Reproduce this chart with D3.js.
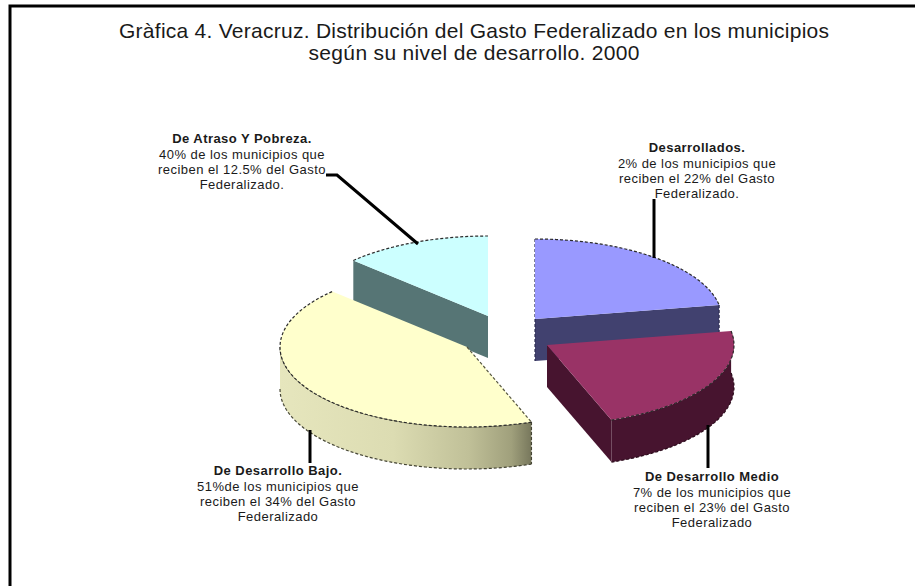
<!DOCTYPE html>
<html>
<head>
<meta charset="utf-8">
<script src="https://cdnjs.cloudflare.com/ajax/libs/d3/7.8.5/d3.min.js"></script>
<style>
html,body{margin:0;padding:0;background:#fff;}
svg{display:block;}
text{font-family:"Liberation Sans",Arial,sans-serif;fill:#1a1a1a;}
</style>
</head>
<body>
<svg id="c" width="915" height="586"></svg>
<script>
// Data
const titleLines = ["Gràfica 4. Veracruz. Distribución del Gasto Federalizado en los municipios",
                    "según su nivel de desarrollo. 2000"];
const categories = ["Desarrollados.", "De Desarrollo Medio", "De Desarrollo Bajo.", "De Atraso Y Pobreza."];
// slice shares as they are drawn in the picture (percent of the full circle)
const drawnShares = [22.2, 22.2, 42.8, 12.8];
const captions = [
  ["2% de los municipios que", "reciben el 22% del Gasto", "Federalizado."],
  ["7% de los municipios que", "reciben el 23% del Gasto", "Federalizado"],
  ["51%de los municipios que", "reciben el 34% del Gasto", "Federalizado"],
  ["40% de los municipios que", "reciben el 12.5% del Gasto", "Federalizado."]
];
const topColors  = ["#9999ff", "#993366", "#ffffcc", "#ccffff"];
const wallColors = ["#41416f", "#47142f", "#d9d9ae", "#567575"];

// Layout
const W = 915, H = 586;
const cx = 500, cy = 337, depth = 42;
const x = d3.scaleLinear().domain([-1, 1]).range([-187, 187]);
const y = d3.scaleLinear().domain([-1, 1]).range([-80, 80]);
const explode = [[35, -18], [47, 8], [-33, 10], [-12, -21]];
const labelAnchor = [[697, 152], [712, 481], [278, 475], [242, 143]];
const captionOffsets = [15.5, 31, 46];
const leaders = [
  [[654, 199], [654, 258]],
  [[708, 425], [708, 468]],
  [[310, 430], [310, 463]],
  [[326, 175], [337, 175], [418, 244]]
];

const svg = d3.select("#c");
svg.append("rect").attr("width", W).attr("height", H).attr("fill", "#fff");

// frame (open at the right and bottom of the picture)
svg.append("path")
  .attr("d", d3.line()([[10, H], [10, 6], [W, 6]]))
  .attr("fill", "none").attr("stroke", "#000").attr("stroke-width", 3);

const defs = svg.append("defs");
const grad = defs.append("linearGradient").attr("id", "yellowWall")
  .attr("gradientUnits", "userSpaceOnUse");
grad.selectAll("stop")
  .data([[0, "#e6e6bd"], [0.45, "#dcdcb2"], [0.75, "#c0c098"], [0.92, "#a0a07c"], [1, "#77775c"]])
  .join("stop").attr("offset", d => d[0]).attr("stop-color", d => d[1]);

const arcs = d3.pie().sort(null).value(d => d).startAngle(0).endAngle(2 * Math.PI)(drawnShares);
const pt = (a, o, r = 1, dz = 0) => [cx + o[0] + x(r * Math.sin(a)), cy + o[1] + y(-r * Math.cos(a)) + dz];
const arcPts = (a0, a1, o, dz = 0) => d3.range(0, 61).map(i => pt(a0 + (a1 - a0) * i / 60, o, 1, dz));
const line = d3.line();
const dotted = (sel, color) => sel.attr("fill", "none").attr("stroke", color)
  .attr("stroke-width", 1.2).attr("stroke-dasharray", "3 2");

// back to front
const order = [3, 0, 2, 1];
order.forEach(i => {
  const s = arcs[i], o = explode[i];
  const a0 = s.startAngle, a1 = s.endAngle;
  const g = svg.append("g");
  const apex = pt(0, o, 0);

  if (i === 3) { // start edge wall
    const p = pt(a0, o);
    g.append("path").attr("d", line([p, apex, [apex[0], apex[1] + depth], [p[0], p[1] + depth]]) + "Z")
      .attr("fill", wallColors[i]);
  }
  if (i === 0) { // end edge wall
    const p = pt(a1, o);
    g.append("path").attr("d", line([apex, p, [p[0], p[1] + depth], [apex[0], apex[1] + depth]]) + "Z")
      .attr("fill", wallColors[i]);
    dotted(g.append("path").attr("d", line([pt(a0, o), [apex[0], apex[1] + depth]])), "#2c2c50");
    dotted(g.append("path").attr("d", line([p, [p[0], p[1] + depth]])), "#2c2c50");
  }
  if (i === 1) { // end edge wall + outer wall
    const p = pt(a1, o);
    g.append("path").attr("d", line([apex, p, [p[0], p[1] + depth], [apex[0], apex[1] + depth]]) + "Z")
      .attr("fill", wallColors[i]);
    const outer = arcPts(a0, a1, o), lower = arcPts(a1, a0, o, depth);
    g.append("path").attr("d", line(outer.concat(lower)) + "Z").attr("fill", wallColors[i]);
    dotted(g.append("path").attr("d", line(lower)), "#2a0a1a");
  }
  if (i === 2) { // outer wall, visible from the right corner round to the leftmost point
    const a2 = 1.5 * Math.PI;
    const outer = arcPts(a0, a2, o), lower = arcPts(a2, a0, o, depth);
    grad.attr("x1", pt(a2, o)[0]).attr("x2", pt(a0, o)[0]).attr("y1", 0).attr("y2", 0);
    g.append("path").attr("d", line(outer.concat(lower)) + "Z").attr("fill", "url(#yellowWall)");
    dotted(g.append("path").attr("d", line(lower)), "#444433");
    g.append("path").attr("d", line(outer)).attr("fill", "none")
      .attr("stroke", "#55553f").attr("stroke-width", 1);
    const rc = pt(a0, o);
    dotted(g.append("path").attr("d", line([rc, [rc[0], rc[1] + depth]])), "#444433");
  }
  // top face
  const rim = arcPts(a0, a1, o);
  g.append("path").attr("d", line([apex].concat(rim)) + "Z").attr("fill", topColors[i]);
  dotted(g.append("path").attr("d", line(rim)), "#2b2b2b");
  if (i === 2) dotted(g.append("path").attr("d", line([apex, pt(a0, o)])), "#55553f");
});

// leader lines
svg.append("g").selectAll("path").data(leaders).join("path")
  .attr("d", d => line(d)).attr("fill", "none").attr("stroke", "#000").attr("stroke-width", 3);

// title
const titleLengths = [710, 331];
svg.append("g").selectAll("text").data(titleLines).join("text")
  .attr("x", 474).attr("y", (d, i) => 38 + i * 22)
  .attr("text-anchor", "middle").attr("font-size", 21)
  .attr("textLength", (d, i) => titleLengths[i]).attr("lengthAdjust", "spacing")
  .text(d => d);

// labels
categories.forEach((c, i) => {
  const [lx, ly] = labelAnchor[i];
  const t = svg.append("g");
  t.append("text").attr("x", lx).attr("y", ly).attr("text-anchor", "middle")
    .attr("font-size", 13).attr("letter-spacing", 0.45).attr("font-weight", "bold").attr("fill", "#000").text(c);
  t.selectAll("text.l").data(captions[i]).join("text").attr("class", "l")
    .attr("x", lx).attr("y", (d, j) => ly + captionOffsets[j])
    .attr("text-anchor", "middle").attr("font-size", 13).attr("letter-spacing", 0.45).text(d => d);
});
</script>
</body>
</html>
